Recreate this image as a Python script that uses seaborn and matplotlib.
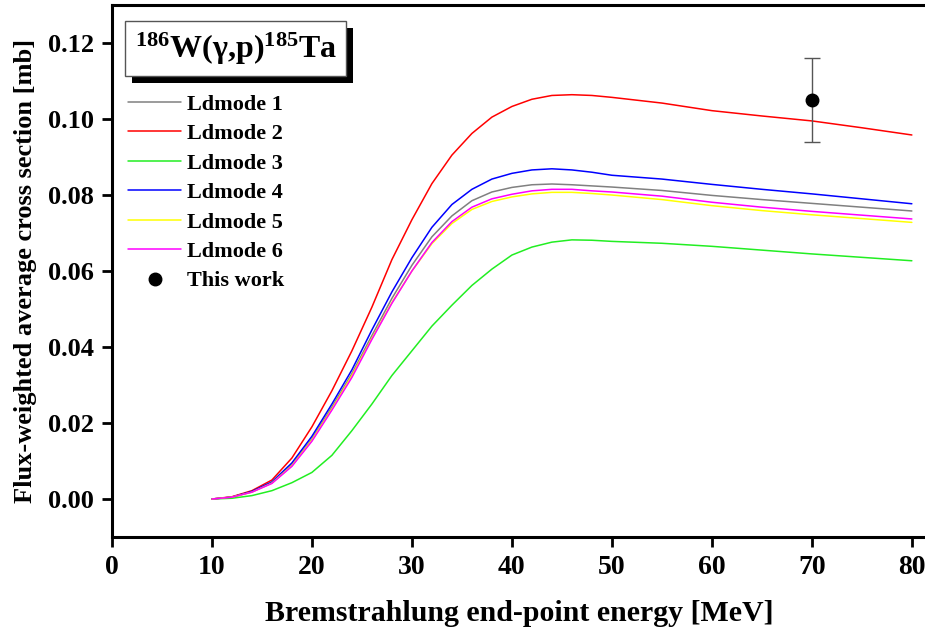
import numpy as np
import pandas as pd
import matplotlib
matplotlib.use('Agg')
import matplotlib.pyplot as plt
import matplotlib.patheffects as pe
import seaborn as sns

# end-point energies [MeV]
energy = [10, 12, 14, 16, 18, 20, 22, 24, 26, 28, 30, 32, 34, 36, 38, 40,
          42, 44, 46, 48, 50, 55, 60, 65, 70, 75, 80]

# flux-weighted average cross sections [mb]
ldmode1 = [0, 0.0005, 0.0019, 0.0043, 0.0090, 0.0158, 0.0242, 0.0330, 0.0430, 0.0528,
           0.0615, 0.0690, 0.0745, 0.0785, 0.0808, 0.0820, 0.0827, 0.0829, 0.0827,
           0.0824, 0.0821, 0.0812, 0.0799, 0.0788, 0.0778, 0.0768, 0.0758]
ldmode2 = [0, 0.0006, 0.0022, 0.0050, 0.0108, 0.0190, 0.0285, 0.0390, 0.0505, 0.0630,
           0.0735, 0.0830, 0.0905, 0.0962, 0.1005, 0.1033, 0.1052, 0.1062, 0.1064,
           0.1062, 0.1057, 0.1042, 0.1022, 0.1008, 0.0995, 0.0977, 0.0958]
ldmode3 = [0, 0.0002, 0.0009, 0.0022, 0.0043, 0.0070, 0.0115, 0.0180, 0.0250, 0.0325,
           0.0390, 0.0455, 0.0510, 0.0562, 0.0605, 0.0642, 0.0663, 0.0676, 0.0682,
           0.0681, 0.0678, 0.0673, 0.0665, 0.0655, 0.0645, 0.0636, 0.0627]
ldmode4 = [0, 0.0005, 0.0020, 0.0045, 0.0095, 0.0165, 0.0250, 0.0340, 0.0445, 0.0545,
           0.0635, 0.0715, 0.0775, 0.0815, 0.0842, 0.0857, 0.0866, 0.0869, 0.0866,
           0.0860, 0.0852, 0.0842, 0.0828, 0.0815, 0.0803, 0.0790, 0.0777]
ldmode5 = [0, 0.0005, 0.0018, 0.0042, 0.0088, 0.0155, 0.0237, 0.0325, 0.0423, 0.0517,
           0.0600, 0.0672, 0.0725, 0.0762, 0.0783, 0.0795, 0.0803, 0.0807, 0.0807,
           0.0804, 0.0800, 0.0788, 0.0772, 0.0759, 0.0748, 0.0738, 0.0728]
ldmode6 = [0, 0.0005, 0.0018, 0.0041, 0.0086, 0.0152, 0.0234, 0.0320, 0.0420, 0.0515,
           0.0600, 0.0675, 0.0730, 0.0768, 0.0790, 0.0802, 0.0811, 0.0815, 0.0815,
           0.0811, 0.0808, 0.0797, 0.0781, 0.0768, 0.0757, 0.0747, 0.0737]

# measured point
exp_energy = [70]
exp_xs = [0.105]
exp_err = [0.011]

labels = ['Ldmode 1', 'Ldmode 2', 'Ldmode 3', 'Ldmode 4', 'Ldmode 5', 'Ldmode 6']
colors = ['#808080', '#ff0000', '#22ee22', '#0000ff', '#ffff00', '#ff00ff']

df = pd.DataFrame({'energy': energy * 6,
                   'xs': ldmode1 + ldmode2 + ldmode3 + ldmode4 + ldmode5 + ldmode6,
                   'model': np.repeat(labels, len(energy))})

sns.set_style('ticks')
plt.rcParams['font.family'] = ['Liberation Serif', 'DejaVu Serif']
plt.rcParams['font.weight'] = 'bold'
plt.rcParams['mathtext.fontset'] = 'custom'
plt.rcParams['mathtext.rm'] = 'Liberation Serif:bold'
plt.rcParams['mathtext.bf'] = 'Liberation Serif:bold'
for k in ['text.color', 'axes.labelcolor', 'xtick.color', 'ytick.color', 'axes.edgecolor']:
    plt.rcParams[k] = 'black'

fig = plt.figure(figsize=(9.25, 6.27), dpi=100)
ax = fig.add_axes([0.121, 0.1435, 0.881, 0.8485])

sns.lineplot(data=df, x='energy', y='xs', hue='model', palette=colors,
             linewidth=1.1, ax=ax)
ax.errorbar(exp_energy, exp_xs, yerr=exp_err, fmt='none', ecolor='#555555',
            elinewidth=1, capsize=6, capthick=1)
ax.plot(exp_energy, exp_xs, 'o', color='black', markersize=9, label='This work')

ax.set_xlim(0, 81.5)
ax.set_ylim(-0.01, 0.13)
ax.set_xticks(range(0, 81, 10))
ax.set_yticks([0, 0.02, 0.04, 0.06, 0.08, 0.10, 0.12])
ax.set_yticklabels(['0.00', '0.02', '0.04', '0.06', '0.08', '0.10', '0.12'])
ax.tick_params(axis='both', direction='out', length=7, width=2, labelsize=19, pad=6,
               colors='black')
ax.tick_params(axis='x', labelsize=20)
for s in ['left', 'bottom', 'top']:
    ax.spines[s].set_linewidth(2.2)
    ax.spines[s].set_color('black')
ax.spines['right'].set_visible(False)

ax.set_xlabel('Bremstrahlung end-point energy [MeV]', fontsize=21.5, fontweight='bold', labelpad=14)
ax.set_ylabel('Flux-weighted average cross section [mb]', fontsize=19, fontweight='bold', labelpad=8)

handles, lbls = ax.get_legend_handles_labels()
leg = ax.legend(handles, lbls, loc='upper left', bbox_to_anchor=(-0.005, 0.87),
                frameon=False, fontsize=16, handlelength=2.4, handletextpad=0.25,
                labelspacing=0.4)

t = ax.text(0.152, 0.918, r'$\mathbf{^{186}}$W(γ,p)$\mathbf{^{185}}$Ta', transform=ax.transAxes,
            fontsize=23, fontweight='bold', ha='center', va='center',
            bbox=dict(boxstyle='square,pad=0.3', fc='white', ec='#555555', lw=1))
t.get_bbox_patch().set_path_effects([pe.SimplePatchShadow(offset=(5, -5), shadow_rgbFace='black', alpha=1),
                                     pe.Normal()])

fig.savefig('out.png', dpi=100)
